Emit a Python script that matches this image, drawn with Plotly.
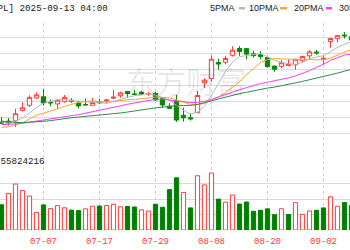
import numpy as np
import pandas as pd
import plotly.graph_objects as go

# ---------------- data ----------------
dates = ["06-26", "06-27", "06-30", "07-01", "07-02", "07-03", "07-07", "07-08", "07-09", "07-10",
         "07-11", "07-14", "07-15", "07-16", "07-17", "07-18", "07-21", "07-22", "07-23", "07-24",
         "07-25", "07-28", "07-29", "07-30", "07-31", "08-01", "08-04", "08-05", "08-06", "08-07",
         "08-08", "08-11", "08-12", "08-13", "08-14", "08-15", "08-18", "08-19", "08-20", "08-21",
         "08-22", "08-25", "08-26", "08-27", "08-28", "08-29", "09-02", "09-03", "09-04", "09-05",
         "09-08"]
opens = [201.43, 201.89, 202.01, 206.67, 208.91, 212.15, 212.68, 210.10, 209.53, 210.51,
         210.57, 209.93, 209.22, 208.91, 210.57, 210.87, 212.10, 213.14, 215.00, 213.90,
         214.70, 214.03, 214.18, 211.90, 208.49, 210.87, 204.51, 203.40, 205.63, 218.88,
         220.83, 227.92, 228.01, 231.07, 234.06, 234.00, 231.70, 231.28, 229.98, 226.27,
         226.17, 226.48, 226.87, 228.61, 230.82, 232.51, 229.25, 237.21, 238.45, 240.00,
         239.30]
highs = [203.67, 203.22, 207.39, 210.19, 213.34, 214.65, 216.23, 211.43, 211.33, 213.48,
         212.13, 210.91, 211.89, 212.21, 211.80, 211.79, 215.78, 214.95, 215.15, 215.69,
         215.24, 214.85, 214.81, 212.39, 209.84, 213.58, 207.88, 205.34, 215.38, 220.85,
         231.00, 229.56, 230.80, 235.00, 235.12, 234.28, 233.12, 232.87, 230.47, 226.52,
         229.09, 229.30, 229.49, 230.90, 233.41, 233.38, 230.85, 238.85, 239.90, 241.32,
         240.15]
lows = [200.62, 200.00, 199.26, 206.14, 208.14, 211.81, 208.80, 208.45, 207.22, 210.03,
        209.86, 207.54, 208.92, 208.78, 209.59, 209.70, 211.63, 212.23, 212.41, 213.53,
        213.40, 213.06, 210.82, 207.72, 207.16, 201.50, 201.68, 202.16, 205.59, 216.58,
        219.25, 224.76, 227.07, 230.43, 230.85, 229.34, 230.11, 229.35, 225.77, 223.78,
        225.41, 226.23, 224.69, 228.26, 229.34, 231.37, 226.97, 234.36, 236.74, 238.49,
        236.34]
closes = [201.00, 201.08, 205.17, 207.82, 212.44, 213.55, 209.95, 210.01, 211.14, 212.41,
          211.16, 208.62, 209.11, 210.16, 210.02, 211.18, 212.48, 214.40, 214.15, 213.76,
          213.88, 214.05, 211.27, 209.05, 207.57, 202.38, 203.35, 202.92, 213.25, 220.03,
          229.35, 227.18, 229.65, 233.33, 232.78, 231.59, 230.89, 230.56, 226.01, 224.90,
          227.76, 227.16, 229.31, 230.49, 232.56, 232.14, 229.72, 238.47, 239.78, 239.69,
          237.88]
volumes = [50.5, 73.2, 91.9, 78.8, 67.9, 34.9, 50.2, 42.8, 48.7, 44.4,
           39.8, 38.8, 42.3, 47.5, 48.0, 48.9, 51.4, 46.4, 47.0, 46.0,
           40.3, 37.9, 51.4, 45.5, 80.7, 104.4, 75.1, 44.2, 108.5, 90.2,
           113.9, 61.8, 55.6, 69.9, 51.9, 56.0, 37.5, 39.4, 42.3, 30.6,
           42.5, 31.0, 54.6, 31.3, 38.1, 39.4, 44.1, 66.4, 47.5, 54.9,
           49.0]  # millions
# closes before the visible window (for the moving averages)
prior_closes = [212.93, 212.33, 211.45, 211.26, 208.78, 206.86, 202.09, 201.36, 195.27, 200.21,
                200.42, 199.95, 200.85, 201.70, 203.27, 202.82, 200.63, 203.92, 201.45, 202.67,
                198.78, 199.20, 196.45, 198.42, 195.64, 196.58, 201.00, 201.50, 200.30, 201.56]

tick_labels = ["06-24", "07-07", "07-17", "07-29", "08-08", "08-20", "09-02"]
tick_index = [-2, 6, 14, 22, 30, 38, 46]

ma_periods = [5, 10, 20, 30]
ma_names = ["5PMA", "10PMA", "20PMA", "30PMA"]
ma_colors = ["#b9b9b9", "#ffa62b", "#ff3cff", "#2e8b4e"]

header_text = "[AAPL] 2025-09-13 04:00"
volume_text = "成交量:55824216"
watermark = "东方财富"

# ---------------- styling ----------------
W, H = 350, 250
RED = "#ff3a3a"
GREEN = "#0a850a"
GRID = "#dadada"
MONO = "Liberation Mono"
SANS = "Liberation Sans"

px_per_bar = 7.0
first_bar_px = 1.5
x_lo = -first_bar_px / px_per_bar
x_hi = x_lo + W / px_per_bar

main_top, main_bot = 21.5, 149.5
vol_top, vol_bot = 168.0, 230.0
price_lo, price_hi = 189.33, 246.03
vol_max = 124.0

def py(p):  # pixel y -> paper
    return 1 - p / H

idx = np.arange(len(dates))
all_closes = pd.Series(prior_closes + closes)
n = len(dates)

fig = go.Figure()

fig.add_trace(go.Candlestick(
    x=idx, open=opens, high=highs, low=lows, close=closes,
    increasing=dict(line=dict(color=RED, width=1), fillcolor="white"),
    decreasing=dict(line=dict(color=GREEN, width=1), fillcolor=GREEN),
    whiskerwidth=0, xaxis="x", yaxis="y", hoverinfo="skip",
))

for per, col in zip(ma_periods, ma_colors):
    ma = all_closes.rolling(per).mean().iloc[-n:].values
    fig.add_trace(go.Scatter(x=idx, y=ma, mode="lines",
                             line=dict(color=col, width=1),
                             xaxis="x", yaxis="y", hoverinfo="skip"))

prev = np.array([prior_closes[-1]] + closes[:-1])
up = np.array(closes) >= prev
vol_arr = np.array(volumes)
fig.add_trace(go.Bar(x=idx[up], y=vol_arr[up], width=0.6,
                     marker=dict(color="white", line=dict(color=RED, width=1)),
                     xaxis="x2", yaxis="y2", hoverinfo="skip"))
fig.add_trace(go.Bar(x=idx[~up], y=vol_arr[~up], width=0.6,
                     marker=dict(color="#008000", line=dict(color="#008000", width=1)),
                     xaxis="x2", yaxis="y2", hoverinfo="skip"))

shapes = []
# dashed vertical grid lines at tick positions
for t in tick_index:
    if x_lo < t < x_hi:
        shapes.append(dict(type="line", xref="x", yref="paper", x0=t, x1=t,
                           y0=py(vol_bot), y1=py(main_top),
                           line=dict(color="#cfcfcf", width=1, dash="3px,3px"), layer="below"))

annotations = []
# off-range tick labels
for t, lab in zip(tick_index, tick_labels):
    if not (x_lo < t < x_hi):
        annotations.append(dict(xref="x2", yref="paper", x=t, y=py(241), text=lab,
                                showarrow=False, xanchor="center", yanchor="middle",
                                font=dict(family=MONO, size=9, color=RED)))

annotations.append(dict(xref="paper", yref="paper", x=110 / W, y=py(8), text=header_text,
                        showarrow=False, xanchor="right", yanchor="middle",
                        font=dict(family=MONO, size=9.2, color="#222")))
annotations.append(dict(xref="paper", yref="paper", x=47 / W, y=py(161), text=volume_text,
                        showarrow=False, xanchor="right", yanchor="middle",
                        font=dict(family=MONO, size=9.2, color="#222")))
annotations.append(dict(xref="paper", yref="paper", x=186 / W, y=py(80), text=watermark,
                        showarrow=False, xanchor="center", yanchor="middle",
                        font=dict(family="Noto Sans CJK SC", size=30, color="rgba(0,0,0,0.09)")))

# legend texts and colored dashes
leg_text_pos = [(236.5, "right"), (247, "left"), (292, "left"), (337, "left")]
leg_dash_pos = [(239, 245), (280, 287), (326, 332), (372, 378)]
for (xp, anc), name, col, (d0, d1) in zip(leg_text_pos, ma_names, ma_colors, leg_dash_pos):
    annotations.append(dict(xref="paper", yref="paper", x=xp / W, y=py(8), text=name,
                            showarrow=False, xanchor=anc, yanchor="middle",
                            font=dict(family=SANS, size=9, color="#222")))
    shapes.append(dict(type="rect", xref="paper", yref="paper",
                       x0=d0 / W, x1=d1 / W, y0=py(9.5), y1=py(7), line=dict(width=0),
                       fillcolor=col))

fig.update_layout(
    width=W, height=H, margin=dict(l=0, r=0, t=0, b=0),
    paper_bgcolor="white", plot_bgcolor="white",
    showlegend=False, barmode="overlay", boxgap=0.38, boxgroupgap=0,
    shapes=shapes, annotations=annotations,
    xaxis=dict(domain=[0, 1], anchor="y", range=[x_lo, x_hi], showticklabels=False,
               showgrid=False, zeroline=False, rangeslider=dict(visible=False), fixedrange=True),
    yaxis=dict(domain=[py(main_bot), py(main_top)], range=[price_lo, price_hi],
               tickvals=list(np.linspace(price_lo, price_hi, 9)), showticklabels=False,
               gridcolor=GRID, gridwidth=1, zeroline=False),
    xaxis2=dict(domain=[0, 1], anchor="y2", range=[x_lo, x_hi], tickvals=tick_index,
                ticktext=tick_labels, showgrid=False, zeroline=False, ticks="",
                tickfont=dict(family=MONO, size=9, color=RED), ticklabelstandoff=4),
    yaxis2=dict(domain=[py(vol_bot), py(vol_top)], range=[0, vol_max],
                tickvals=list(np.linspace(0, vol_max, 5)), showticklabels=False,
                gridcolor=GRID, gridwidth=1, zeroline=False),
)

fig.write_html("out.html")
